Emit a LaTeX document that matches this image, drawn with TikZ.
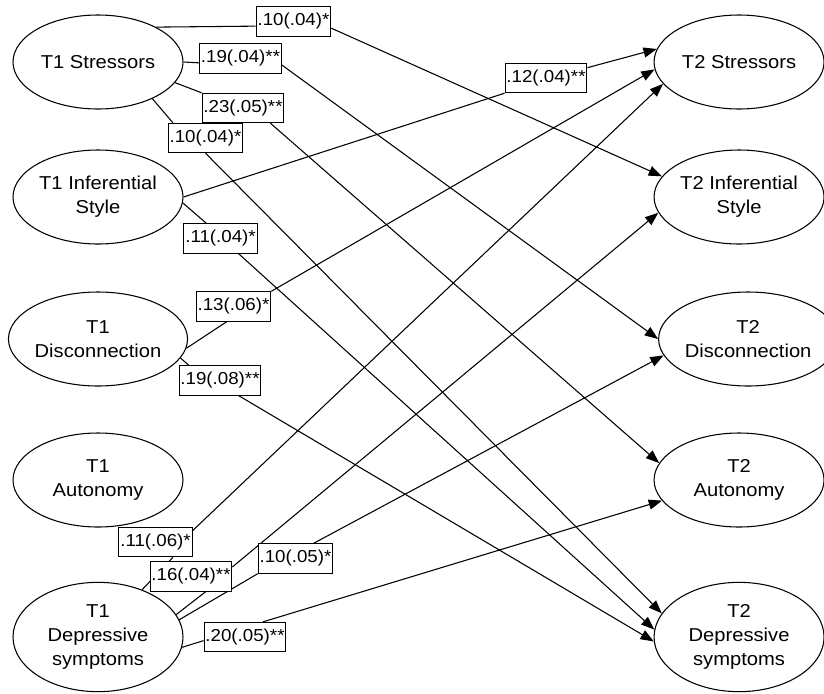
\documentclass[tikz,border=0pt]{standalone}
\usepackage{fontspec}
\setmainfont{Liberation Sans}[FakeStretch=1.08]
\usetikzlibrary{arrows.meta,positioning,shapes.geometric,backgrounds}

\begin{document}
\begin{tikzpicture}[x=0.75pt,y=-0.75pt,
  latent/.style={ellipse, draw, line width=0.8pt, fill=white, minimum width=127.5pt,
                 minimum height=70.5pt, inner sep=0pt, align=center,
                 font=\fontsize{14}{18}\selectfont},
  coef/.style={rectangle, draw, line width=0.8pt, fill=white, inner xsep=1pt,
               minimum height=22pt, font=\fontsize{13}{15}\selectfont},
  arrow/.style={-{Triangle[length=10pt,width=7.5pt]}, line width=0.8pt}
]
  \useasboundingbox (0,0) rectangle (824,693);
  % time 1
  \node[latent] (t1str) at (98,62) {T1 Stressors};
  \node[latent] (t1inf) at (98,197) {T1 Inferential\\Style};
  \node[latent] (t1dis) at (98,339) {T1\\Disconnection};
  \node[latent] (t1aut) at (98,480) {T1\\Autonomy};
  \node[latent,minimum height=82pt] (t1dep) at (98,637) {T1\\Depressive\\symptoms};
  % time 2
  \node[latent,right=352.5pt of t1str] (t2str) {T2 Stressors};
  \node[latent,right=352.5pt of t1inf] (t2inf) {T2 Inferential\\Style};
  \node[latent,right=352.5pt of t1dis] (t2dis) {T2\\Disconnection};
  \node[latent,right=352.5pt of t1aut] (t2aut) {T2\\Autonomy};
  \node[latent,minimum height=82pt,right=352.5pt of t1dep] (t2dep) {T2\\Depressive\\symptoms};
  % path coefficients
  \node[coef] (str-inf) at (293.5,21.5) {.10(.04)*};
  \node[coef] (str-dis) at (240.5,58.5) {.19(.04)**};
  \node[coef] (str-aut) at (243,108) {.23(.05)**};
  \node[coef] (str-dep) at (205.5,138) {.10(.04)*};
  \node[coef] (inf-str) at (546,78) {.12(.04)**};
  \node[coef] (inf-dep) at (220.5,238.5) {.11(.04)*};
  \node[coef] (dis-str) at (233.5,306.5) {.13(.06)*};
  \node[coef] (dis-dep) at (220,380.5) {.19(.08)**};
  \node[coef] (dep-str) at (155.5,542) {.11(.06)*};
  \node[coef] (dep-inf) at (191,576.5) {.16(.04)**};
  \node[coef] (dep-dis) at (295.5,558.5) {.10(.05)*};
  \node[coef] (dep-aut) at (245,637) {.20(.05)**};
  \begin{scope}[on background layer]
    \foreach \s/\i/\o/\t in {t1str.31/str-inf.187/str-inf.-10/t2inf.165,
        t1str.east/str-dis.186/str-dis.-9/t2dis.180,
        t1str.-15/str-aut.north west/str-aut.-29/t2aut.168,
        t1str.-34/str-dep.155/str-dep.south/t2dep.163,
        t1inf.east/inf-str.south west/inf-str.14/t2str.171,
        t1inf.-4/inf-dep.133/inf-dep.-40/t2dep.175,
        t1dis.-6/dis-str.-114/dis-str.north east/t2str.185,
        t1dis.-13/dis-dep.154/dis-dep.-39/t2dep.183,
        t1dep.47/dep-str.-41/dep-str.17/t2str.196,
        t1dep.16/dep-inf.-46/dep-inf.13/t2inf.191,
        t1dep.12/dep-dis.south west/dep-dis.40/t2dis.191,
        t1dep.-7/dep-aut.185/dep-aut.40/t2aut.195}
      {\draw[arrow] (\s) -- (\i) (\o) -- (\t);}
  \end{scope}
\end{tikzpicture}
\end{document}
